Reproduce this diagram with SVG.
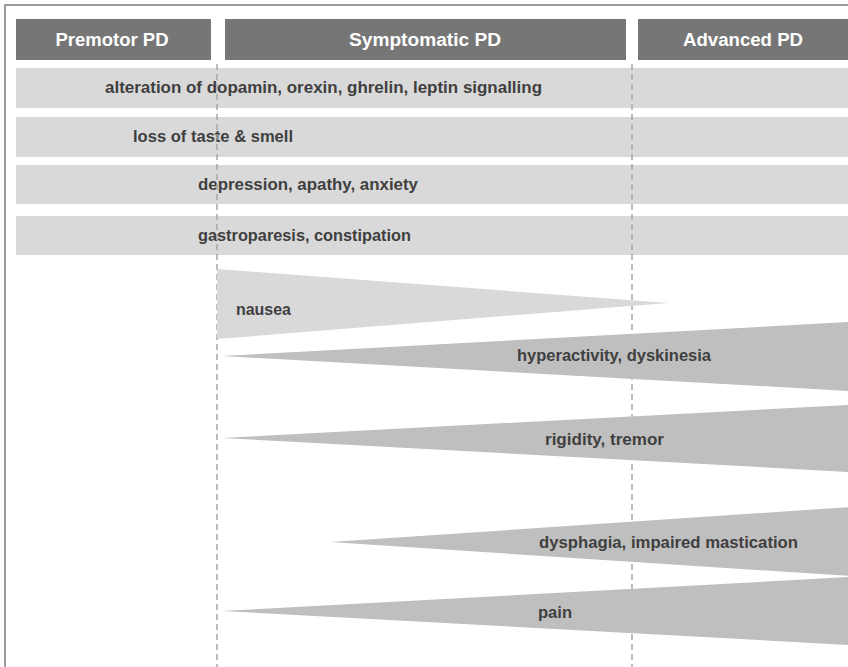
<svg xmlns="http://www.w3.org/2000/svg" width="848" height="667" viewBox="0 0 848 667">
<style>
.hdr{fill:#767676}
.hdrt{fill:#ffffff;font-family:"Liberation Sans",Arial,sans-serif;font-weight:bold;font-size:18px;text-anchor:middle}
.row{fill:#d9d9d9}
.lbl{fill:#3f3f3f;font-family:"Liberation Sans",Arial,sans-serif;font-weight:bold;font-size:16px}
.light{fill:#d9d9d9}
.dark{fill:#bfbfbf}
.dash{stroke:#a6a6a6;stroke-width:1.5;stroke-dasharray:6 4;fill:none}
</style>
<rect x="0" y="0" width="848" height="667" fill="#ffffff"/>
<rect x="5" y="5" width="860" height="680" fill="none" stroke="#9a9a9a" stroke-width="2"/>
<g id="header-premotor"><rect class="hdr" x="16" y="19" width="195" height="41"/><text class="hdrt" x="112" y="46" textLength="113" lengthAdjust="spacingAndGlyphs">Premotor PD</text></g>
<g id="header-symptomatic"><rect class="hdr" x="225" y="19" width="401" height="41"/><text class="hdrt" x="425" y="46" textLength="152" lengthAdjust="spacingAndGlyphs">Symptomatic PD</text></g>
<g id="header-advanced"><rect class="hdr" x="638" y="19" width="212" height="41"/><text class="hdrt" x="743" y="46" textLength="120" lengthAdjust="spacingAndGlyphs">Advanced PD</text></g>
<g id="row-signalling"><rect class="row" x="16" y="68" width="834" height="40"/><text class="lbl" x="105" y="93" textLength="437" lengthAdjust="spacingAndGlyphs">alteration of dopamin, orexin, ghrelin, leptin signalling</text></g>
<g id="row-taste"><rect class="row" x="16" y="117" width="834" height="40"/><text class="lbl" x="133" y="142" textLength="160" lengthAdjust="spacingAndGlyphs">loss of taste &amp; smell</text></g>
<g id="row-depression"><rect class="row" x="16" y="165" width="834" height="39"/><text class="lbl" x="198" y="190" textLength="220" lengthAdjust="spacingAndGlyphs">depression, apathy, anxiety</text></g>
<g id="row-gastro"><rect class="row" x="16" y="216" width="834" height="39"/><text class="lbl" x="198" y="241" textLength="213" lengthAdjust="spacingAndGlyphs">gastroparesis, constipation</text></g>
<g id="connectors">
<line class="dash" x1="217" y1="64" x2="217" y2="667"/>
<line class="dash" x1="632" y1="64" x2="632" y2="667"/>
</g>
<g id="nausea"><polygon class="light" points="217,269 668,303 217,339"/><text class="lbl" x="236" y="315" textLength="55" lengthAdjust="spacingAndGlyphs">nausea</text></g>
<g id="hyperactivity"><polygon class="dark" points="222,356 850,322 850,391"/><text class="lbl" x="517" y="361" textLength="194" lengthAdjust="spacingAndGlyphs">hyperactivity, dyskinesia</text></g>
<g id="rigidity"><polygon class="dark" points="222,438 850,405 850,472"/><text class="lbl" x="545" y="445" textLength="119" lengthAdjust="spacingAndGlyphs">rigidity, tremor</text></g>
<g id="dysphagia"><polygon class="dark" points="330,542 850,507 850,576"/><text class="lbl" x="539" y="548" textLength="259" lengthAdjust="spacingAndGlyphs">dysphagia, impaired mastication</text></g>
<g id="pain"><polygon class="dark" points="222,611 850,577 850,645"/><text class="lbl" x="538" y="618" textLength="34" lengthAdjust="spacingAndGlyphs">pain</text></g>
</svg>
